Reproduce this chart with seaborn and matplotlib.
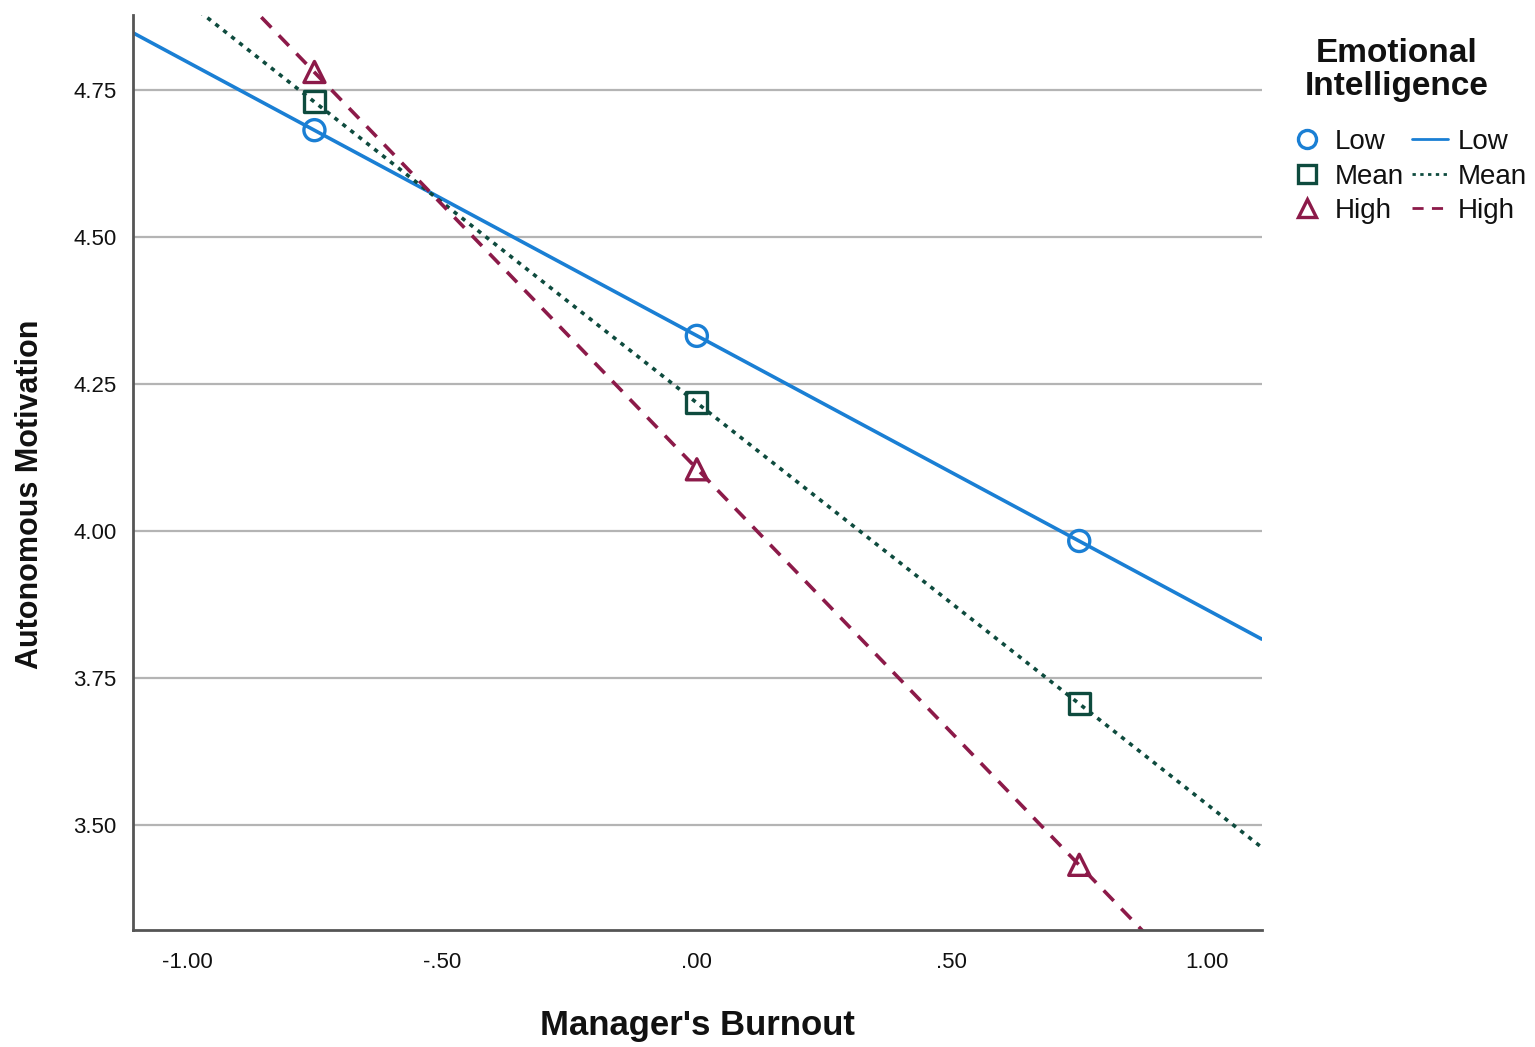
import numpy as np
import pandas as pd
import matplotlib
matplotlib.use("Agg")
import matplotlib.pyplot as plt
from matplotlib.lines import Line2D
import seaborn as sns

# values
burnout = [-0.75, 0.00, 0.75]
levels = ["Low", "Mean", "High"]
motivation_low = [4.682, 4.332, 3.983]
motivation_mean = [4.730, 4.218, 3.706]
motivation_high = [4.781, 4.105, 3.432]
x_ticks = [-1.0, -0.5, 0.0, 0.5, 1.0]
x_tick_labels = ["-1.00", "-.50", ".00", ".50", "1.00"]
y_ticks = [3.50, 3.75, 4.00, 4.25, 4.50, 4.75]

colors = {"Low": "#1a7fd4", "Mean": "#0e4b3e", "High": "#8c1a49"}
markers = {"Low": "o", "Mean": "s", "High": "^"}
dashes = {"Low": "-", "Mean": (0, (1.2, 1.6)), "High": (0, (4, 3))}

df = pd.DataFrame({
    "burnout": burnout * 3,
    "motivation": motivation_low + motivation_mean + motivation_high,
    "ei": [lv for lv in levels for _ in burnout],
})

sns.set_style("white")
plt.rcParams["font.family"] = ["Liberation Sans", "DejaVu Sans"]

fig = plt.figure(figsize=(15.35, 10.47), dpi=100)
ax = fig.add_axes([0.0866, 0.1117, 0.7354, 0.874])
xlim = (-1.106, 1.108)
ylim = (3.321, 4.878)
ax.set_xlim(xlim)
ax.set_ylim(ylim)

for y in y_ticks:
    ax.axhline(y, color="#b4b4b4", lw=1.6, zorder=0)

for lv in levels:
    sub = df[df["ei"] == lv]
    sns.regplot(data=sub, x="burnout", y="motivation", ax=ax, scatter=False,
                ci=None, truncate=False,
                line_kws=dict(color=colors[lv], lw=2.6, linestyle=dashes[lv], zorder=2))
    sns.scatterplot(data=sub, x="burnout", y="motivation", ax=ax, marker=markers[lv],
                    s=230, facecolors="none", edgecolors=colors[lv], linewidths=2.4,
                    zorder=3, legend=False)

ax.set_xlim(xlim)
ax.set_ylim(ylim)
ax.set_xticks(x_ticks)
ax.set_xticklabels(x_tick_labels)
ax.set_yticks(y_ticks)
ax.set_yticklabels([f"{v:.2f}" for v in y_ticks])
ax.tick_params(axis="both", length=0, labelsize=16, colors="#111111")
ax.tick_params(axis="x", pad=16)
ax.tick_params(axis="y", pad=12)

sns.despine(ax=ax)
for s in ["left", "bottom"]:
    ax.spines[s].set_color("#555555")
    ax.spines[s].set_linewidth(2)

ax.set_xlabel("Manager's Burnout", fontsize=25, fontweight="bold", labelpad=26,
              color="#111111")
ax.set_ylabel("Autonomous Motivation", fontsize=22, fontweight="bold", color="#111111")
ax.yaxis.set_label_coords(-0.078, 0.4765)

# legend title drawn separately so the gap under it matches SPSS
fig.text(1397 / 1535, 1 - 70 / 1047, "Emotional\nIntelligence", ha="center", va="center",
         fontsize=24, fontweight="bold", color="#111111", linespacing=1.1)

handles = [Line2D([], [], marker=markers[lv], linestyle="none", markersize=13,
                  markerfacecolor="none", markeredgecolor=colors[lv], markeredgewidth=2.4)
           for lv in levels]
handles += [Line2D([], [], color=colors[lv], lw=2, linestyle=dashes[lv]) for lv in levels]
leg = fig.legend(handles, levels + levels, ncol=2, loc="upper left",
                 bbox_to_anchor=(0.8235, 0.9005), frameon=False, fontsize=20,
                 handlelength=1.3, handletextpad=0.35, columnspacing=0.3,
                 labelspacing=0.3)
for t in leg.get_texts():
    t.set_color("#111111")

fig.savefig("out.png", dpi=100)
